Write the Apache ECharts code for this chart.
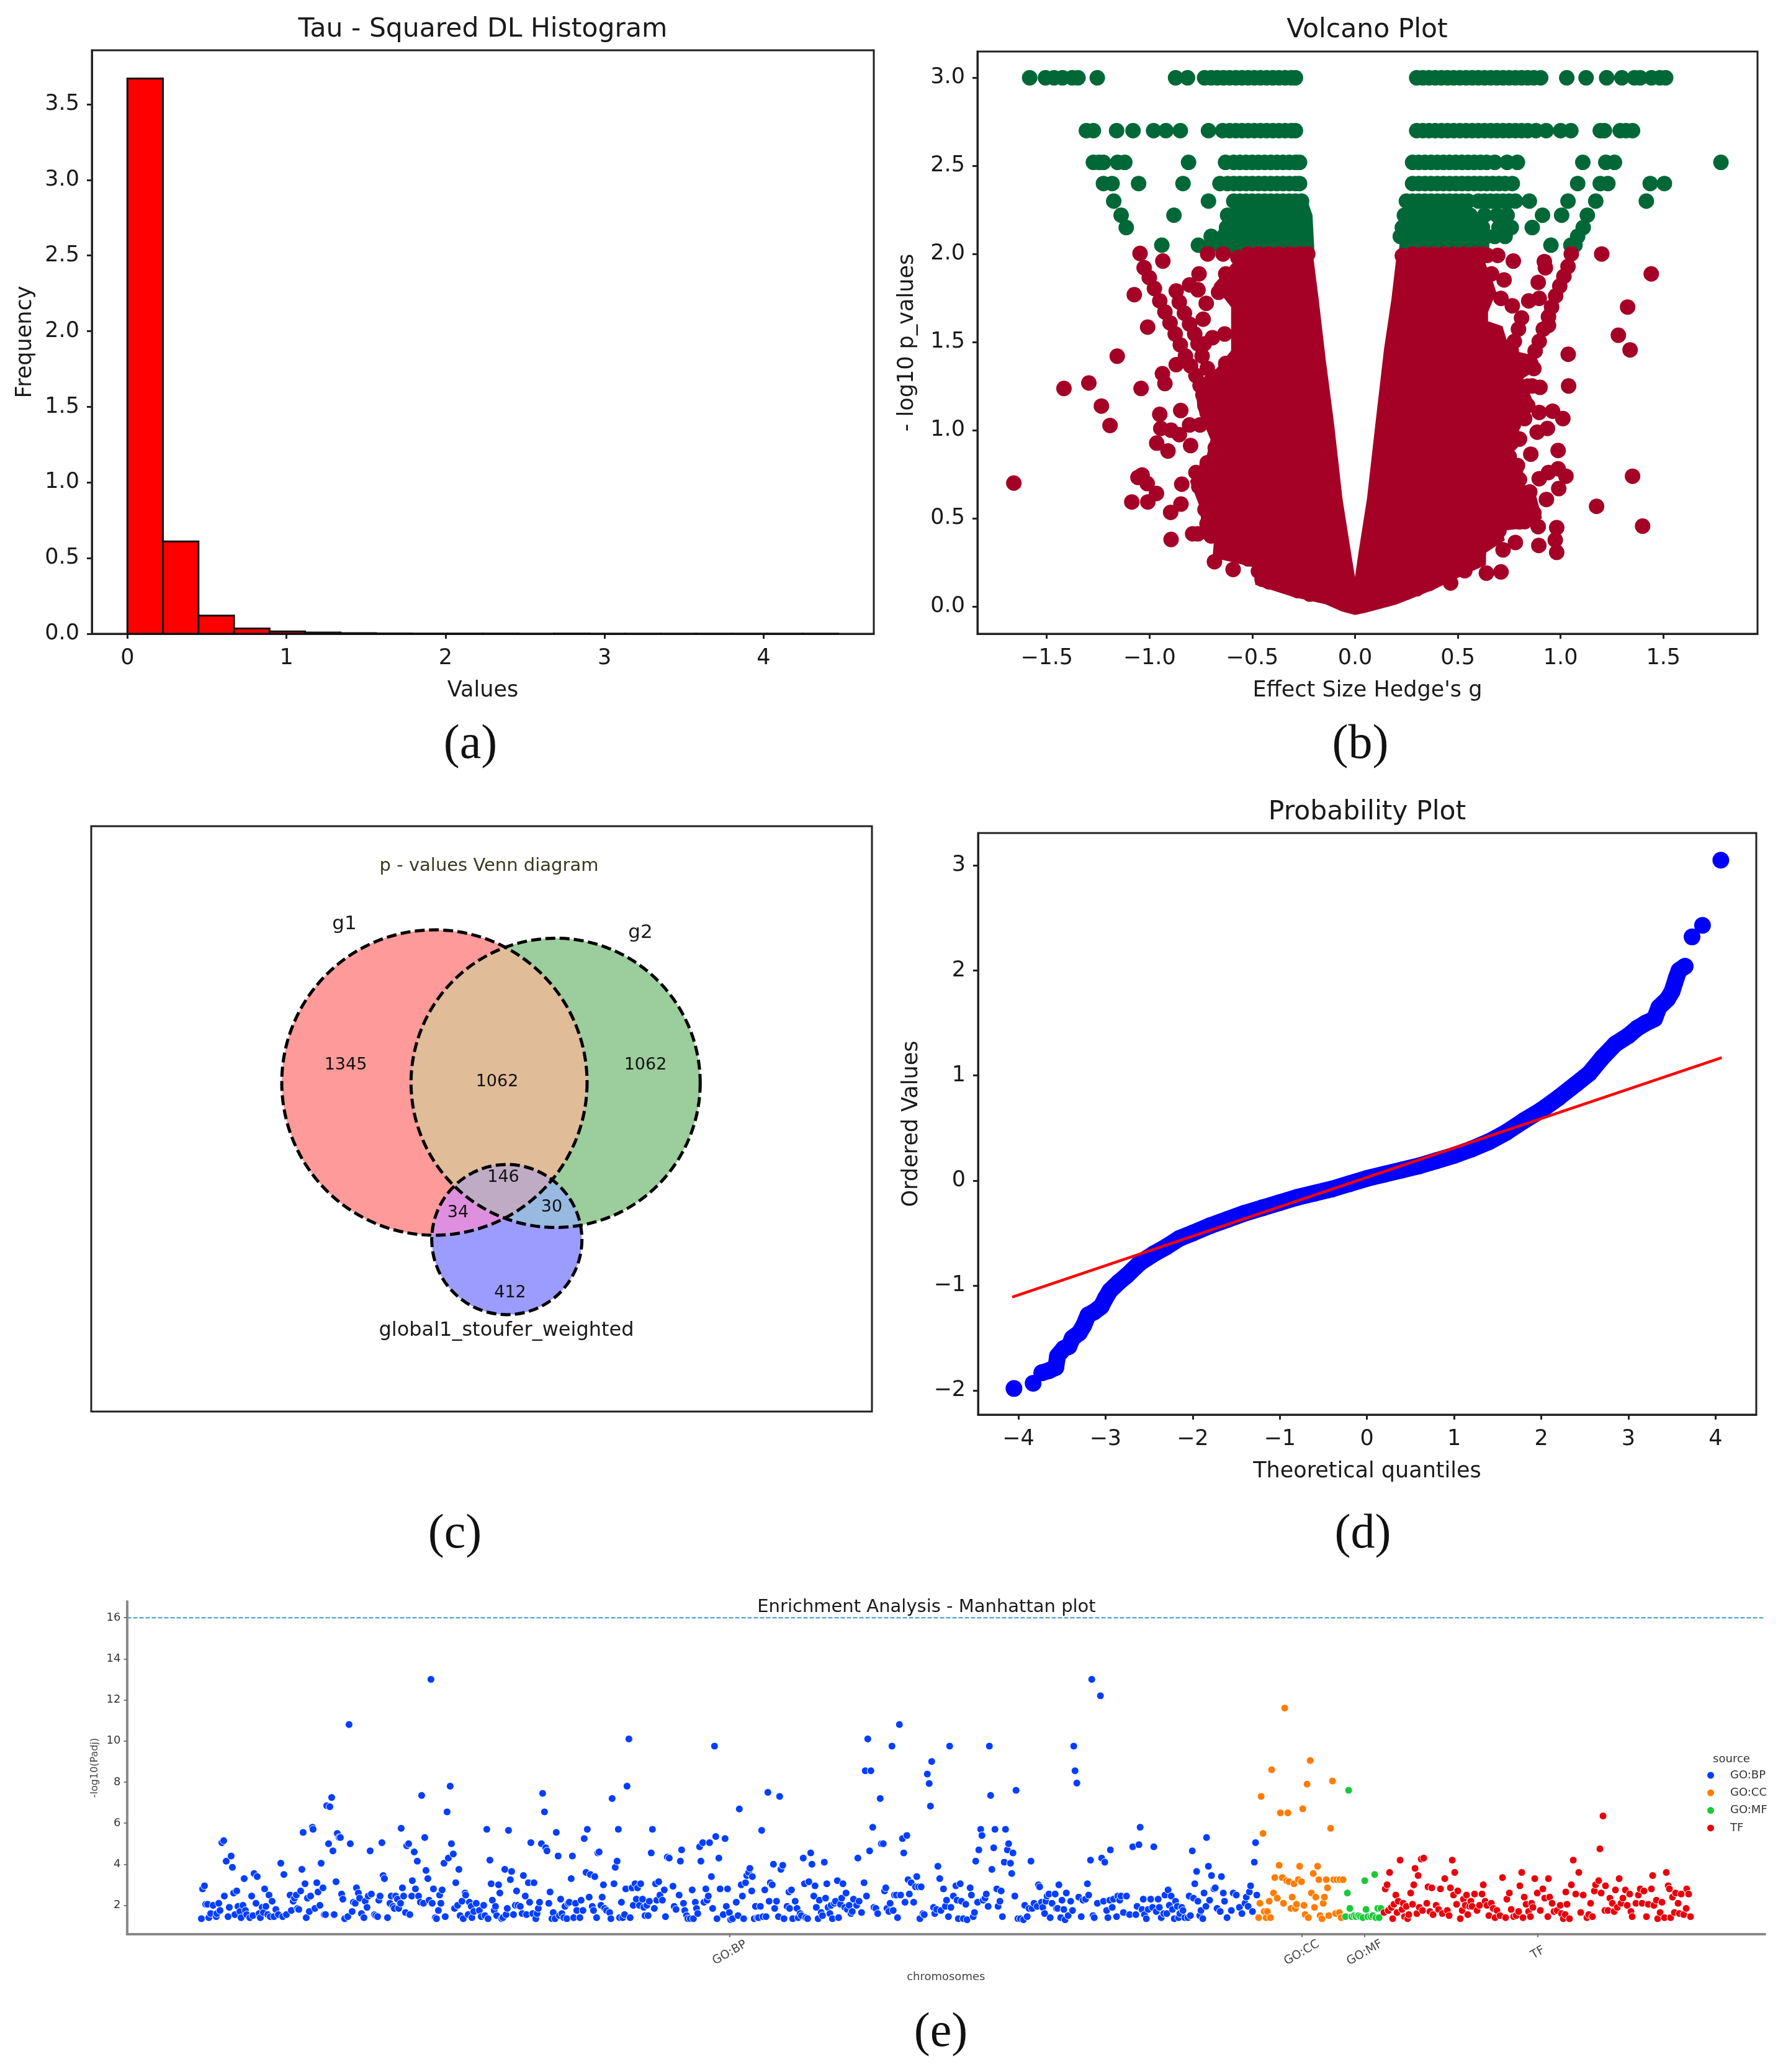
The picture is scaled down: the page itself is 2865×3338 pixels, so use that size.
<!DOCTYPE html>
<html>
<head>
<meta charset="utf-8">
<title>Meta-analysis figure</title>
<script src="https://cdn.jsdelivr.net/npm/echarts@6/dist/echarts.min.js"></script>
<style>
html,body{margin:0;padding:0;background:#fff}
#main{width:2865px;height:3338px}
</style>
</head>
<body>
<div id="main"></div>
<script>
// (a) histogram
var histStart = [0,.2235,.447,.6705,.894,1.1175,1.341,1.5645,1.788,2.0115,2.235,2.4585,2.682,2.9055,3.129,3.3525,3.576,3.7995,4.023,4.2465];
var histFreq = [3.67,.61,.12,.035,.015,.008,.004,.002,.0015,.001,.001,.0005,.001,.0005,.0003,.0003,.0003,.0002,.0002,.0002];
var histWidth = .2235;
var histXTicks = [0,1,2,3,4];
var histYTicks = [0,.5,1,1.5,2,2.5,3,3.5];

// (b) volcano: green rows share one -log10 p value
var greenRows = [
  [3.0,[-1.583,-1.506,-1.464,-1.423,-1.376,-1.348,-1.254,-.873,-.815,-.732,-.7,-.67,-.64,-.61,-.58,-.55,-.52,-.49,-.46,-.43,-.4,-.37,-.34,-.31,-.29,.3,.33,.36,.39,.42,.45,.48,.51,.54,.57,.6,.63,.66,.69,.72,.75,.78,.81,.84,.87,.903,1.03,1.124,1.224,1.298,1.359,1.387,1.442,1.483,1.511]],
  [2.7,[-1.307,-1.273,-1.16,-1.08,-.98,-.92,-.85,-.713,-.644,-.61,-.58,-.55,-.52,-.49,-.46,-.43,-.4,-.37,-.34,-.31,-.29,.3,.33,.36,.39,.42,.45,.48,.51,.54,.57,.6,.63,.66,.69,.72,.75,.78,.81,.84,.88,.93,1.0,1.05,1.193,1.213,1.29,1.318,1.35]],
  [2.52,[-1.273,-1.246,-1.224,-1.155,-1.12,-.81,-.63,-.59,-.56,-.53,-.5,-.47,-.44,-.41,-.38,-.35,-.32,-.29,-.27,.28,.31,.34,.37,.4,.43,.46,.49,.52,.55,.58,.61,.64,.68,.74,.79,1.108,1.22,1.262,1.78]],
  [2.4,[-1.224,-1.182,-1.053,-.837,-.657,-.62,-.59,-.56,-.53,-.5,-.47,-.44,-.41,-.38,-.35,-.32,-.29,-.27,.28,.31,.34,.37,.4,.43,.46,.49,.52,.55,.58,.61,.64,.67,.7,.73,.765,1.083,1.193,1.23,1.436,1.505]],
  [2.3,[-1.174,-.713,-.59,-.56,-.53,-.5,-.47,-.44,-.41,-.38,-.35,-.32,-.29,-.26,.25,.28,.31,.34,.37,.4,.43,.46,.49,.52,.55,.6,.63,.66,.69,.72,.75,.78,.848,1.036,1.171,1.417]],
  [2.22,[-1.138,-.881,-.62,-.25,.24,.56,.63,.69,.74,.912,1.005,1.13]],
  [2.15,[-1.113,-.625,.23,.62,.7,.74,.76,.862,1.11]],
  [2.1,[-.7,-.64,.22,.64,.68,.73,1.083]],
  [2.05,[-.94,-.762,-.7,-.66,.953,1.05,1.07]]
];
// solid blocks in the dense part, outlines
var greenMassLeft = [[-.56,2.32],[-.24,2.32],[-.21,2.22],[-.2,2.0],[-.63,2.0],[-.64,2.1],[-.62,2.22]];
var greenMassRight = [[.25,2.32],[.55,2.32],[.57,2.25],[.65,2.15],[.65,2.0],[.215,2.0],[.23,2.2]];
var redMass = [[-.56,1.99],[-.5,2.02],[-.21,2.02],[-.18,1.744],[-.146,1.404],[-.105,1.036],[-.064,.611],[-.022,.3],[0,.144],[.019,.3],[.061,.611],[.102,1.036],[.144,1.46],[.18,1.744],[.207,2.012],[.268,2.02],[.62,2.02],[.634,1.936],[.66,1.87],[.684,1.783],[.644,1.671],[.644,1.616],[.715,1.588],[.735,1.51],[.76,1.45],[.87,1.421],[.896,1.358],[.815,1.296],[.866,1.156],[.775,1.03],[.825,.948],[.725,.829],[.805,.78],[.825,.683],[.875,.641],[.906,.502],[.825,.447],[.715,.433],[.725,.377],[.634,.307],[.634,.238],[.503,.168],[.383,.099],[.2016,.015],[.047,-.034],[0,-.045],[-.064,-.025],[-.146,.017],[-.3,.057],[-.483,.126],[-.483,.224],[-.69,.28],[-.684,.363],[-.744,.474],[-.754,.57],[-.8,.71],[-.76,.78],[-.72,.85],[-.7,.947],[-.764,1.128],[-.774,1.268],[-.67,1.35],[-.6,1.45],[-.6,1.7],[-.684,1.825],[-.583,1.96]];
var redPoints = [[-1.66,.7],
// left side
[-1.046,2.003],[-.935,1.96],[-.717,2],[-.642,2],[-1.074,1.769],[-1.009,1.585],[-1.157,1.42],[-1.416,1.237],[-1.295,1.268],[-1.234,1.137],[-1.192,1.027],[-1.041,1.237],[-.937,1.321],[-.925,1.265],[-.87,1.372],[-.95,1.09],[-.848,1.112],[-.945,1.01],[-.965,.927],[-.91,.882],[-.895,1],[-.855,.975],[-.8,.913],[-.805,1.03],[-.754,1.03],[-.719,.815],[-.774,.76],[-.843,.694],[-1.036,.746],[-1.056,.732],[-1.011,.697],[-.966,.641],[-1.086,.593],[-1.008,.593],[-.847,.581],[-.897,.534],[-.764,.412],[-.79,.412],[-.895,.38],[-.684,.254],[-.593,.21],[-.452,.154],[-.397,.154],
[-1.026,1.922],[-1.001,1.866],[-.976,1.804],[-.95,1.734],[-.925,1.671],[-.9,1.609],[-.875,1.546],[-.85,1.484],[-.825,1.421],[-.8,1.365],[-.774,1.31],[-.754,1.254],
[-.87,1.79],[-.855,1.727],[-.83,1.664],[-.805,1.602],[-.78,1.546],[-.764,1.49],[-.744,1.421],[-.719,1.351],[-.684,1.282],[-.654,1.24],
[-.759,1.887],[-.805,1.825],[-.764,1.797],[-.724,1.72],[-.739,1.63],[-.629,1.887],[-.664,1.783],[-.634,1.546],[-.694,1.525],[-.734,1.49],[-.629,1.379],
// right side
[.77,1.96],[.921,1.957],[.926,1.922],[.891,1.839],[1.052,2],[1.2,2],[1.441,1.887],[1.326,1.699],[1.281,1.539],[1.338,1.456],[1.037,1.431],[1.039,1.251],[.861,1.251],[.9,1.243],[1.011,1.066],[.961,1.108],[.896,1.101],[.825,1.066],[.886,.989],[.936,1.01],[.855,.864],[.988,.885],[1.35,.739],[1.175,.568],[1.399,.456],[.981,.447],[.974,.377],[.981,.307],[.894,.346],[.78,.363],[.72,.321],[.71,.196],[.639,.189],[.465,.133],[.534,.203],[.891,.453],[.825,.481],[.931,.607],[.991,.669],[1.026,.739],[.988,.781],[.941,.76],[.896,.725],[.78,.767],
[.71,1.748],[.765,1.706],[.845,1.734],[.896,1.748],[.725,1.853],[.664,1.887],[.694,1.992],[.644,1.992],
[1.036,1.929],[1.016,1.873],[.996,1.818],[.976,1.762],[.956,1.699],[.941,1.644],[.941,1.595],[.916,1.574],[.896,1.504],[.876,1.449],[.855,1.379],
[.81,1.637],[.795,1.574],[.775,1.504],[.76,1.449],
// top edge of the dense part
[-.57,1.98],[-.52,2],[-.47,2],[-.42,2],[-.37,2],[-.32,2],[-.27,2],[-.23,2],[.23,1.99],[.28,2],[.33,2],[.38,2],[.43,2],[.48,2],[.53,2],[.58,2],[.62,2],
// lower and outer edges of the dense part
[-.22,.07],[-.28,.09],[-.35,.12],[-.42,.14],[-.47,.2],[-.52,.27],[-.58,.29],[-.64,.31],[-.7,.4],[-.72,.47],[-.73,.55],[-.76,.68],[-.72,.8],[-.68,.9],[-.72,1.1],[-.74,1.2],
[.25,.08],[.3,.1],[.36,.13],[.44,.18],[.5,.21],[.56,.25],[.6,.3],[.62,.35],[.7,.43],[.8,.48],[.87,.53],[.85,.65],[.8,.72],[.79,.8],[.75,.85],[.8,.95],[.77,1.03],[.84,1.14],[.84,1.25],[.87,1.35]];
var volcanoXTicks = [-1.5,-1,-.5,0,.5,1,1.5];
var volcanoYTicks = [0,.5,1,1.5,2,2.5,3];

// (c) venn: centres and radii in the panel's own units
var vennX = [553,748.3,669.7];
var vennY = [413,413.5,666];
var vennR = [246,233,121];
var vennCounts = ['1345','1062','1062','146','34','30','412'];
var vennCountX = [410,654,893,664,591,742,675];
var vennCountY = [385,412,385,566,623,614,752];

// (d) probability plot
var qqX = [-4.05,-3.83,-3.73,-3.65,-3.57,-3.55,-3.48,-3.42,-3.38,-3.3,-3.25,-3.2,-3.13,-3.05,-3,-2.95,-2.85,-2.75,-2.6,-2.45,-2.3,-2.15,-2,-1.8,-1.6,-1.4,-1.2,-1,-.8,-.6,-.4,-.2,0,.2,.4,.6,.8,1,1.2,1.4,1.6,1.8,2,2.2,2.4,2.55,2.7,2.85,3,3.1,3.2,3.3,3.35,3.45,3.5,3.55,3.58,3.65,3.73,3.85,4.06];
var qqY = [-1.98,-1.93,-1.83,-1.81,-1.78,-1.67,-1.6,-1.58,-1.5,-1.45,-1.38,-1.28,-1.25,-1.2,-1.12,-1.05,-.97,-.9,-.78,-.7,-.63,-.55,-.5,-.43,-.37,-.31,-.26,-.21,-.16,-.12,-.08,-.03,.02,.06,.1,.14,.19,.24,.3,.37,.46,.57,.67,.79,.92,1.02,1.17,1.3,1.38,1.45,1.5,1.54,1.65,1.73,1.8,1.93,2,2.04,2.32,2.43,3.05];
var qqLineX = [-4.07,4.07];
var qqLineY = [-1.11,1.17];
var qqXTicks = [-4,-3,-2,-1,0,1,2,3,4];
var qqYTicks = [-2,-1,0,1,2,3];

// (e) manhattan plot, x is the term position along the axis
var bpPoints = [[0,1.35],[2,2.8],[5,2.95],[7,2.05],[10,2.05],[12,1.4],[15,1.6],[19,2],[24,1.45],[25,1.6],[28,2.1],[30,1.75],[33,5.05],[36,5.15],[37,2.45],[40,4.15],[43,1.45],[45,1.9],[48,4.4],[50,3.85],[52,2.6],[54,1.55],[57,2.7],[59,1.95],[62,1.7],[64,1.4],[67,2],[69,3.3],[71,1.75],[73,1.55],[78,1.4],[81,2.45],[83,1.5],[85,3.55],[88,2.1],[90,3.4],[93,1.6],[95,1.4],[98,1.9],[100,1.65],[102,2.8],[104,1.95],[107,1.55],[109,2.5],[111,1.45],[114,2.2],[117,1.45],[120,1.8],[124,1.55],[128,4.05],[131,1.45],[133,3.5],[137,1.55],[143,2.5],[145,1.75],[148,2.2],[150,2.35],[153,2.5],[155,1.85],[157,1.8],[160,2.7],[162,3.75],[164,5.55],[167,3.05],[169,1.4],[171,2.35],[174,1.7],[176,2.45],[179,5.8],[180,5.7],[183,1.85],[186,3.1],[188,2.65],[191,2],[193,4.05],[196,2.85],[198,1.55],[200,1.55],[202,6.85],[205,5],[207,6.8],[210,7.25],[212,4.65],[214,1.55],[217,3.15],[219,5.5],[222,5.3],[224,5.3],[226,2.55],[228,2.3],[231,1.35],[236,1.45],[238,10.8],[240,5],[243,1.7],[245,2.15],[248,2.1],[250,2.85],[253,2.6],[255,2.35],[258,1.6],[262,1.4],[264,2.2],[267,1.9],[269,2.45],[272,4.65],[274,2.55],[279,1.55],[281,1.5],[284,1.45],[286,2.25],[288,2.45],[291,5.05],[293,3.45],[295,3.3],[300,1.4],[304,2.1],[306,2.45],[309,1.95],[311,1.85],[313,2.45],[316,2.3],[318,1.85],[321,2.1],[322,5.75],[324,2.85],[326,2.45],[329,1.65],[331,4.9],[334,5],[336,1.55],[339,2.45],[340,3.2],[343,4.6],[345,2.8],[348,4.15],[350,2.45],[353,2.15],[355,7.35],[358,2.1],[360,5.3],[362,3.7],[365,3.3],[367,2.25],[370,13],[372,2.1],[374,2.8],[377,1.4],[379,1.35],[382,1.75],[384,2.5],[386,2.1],[388,2.75],[391,4.05],[393,1.45],[396,6.55],[398,4.3],[401,7.8],[403,5],[406,4.5],[408,1.85],[410,3.1],[413,2],[415,3.75],[417,1.5],[420,2.2],[422,1.35],[425,2.6],[426,2.5],[430,1.55],[432,2.15],[435,1.95],[436,1.4],[439,1.7],[443,2.1],[448,1.75],[451,1.45],[455,2],[457,1.5],[460,5.7],[462,1.35],[465,4.2],[467,3.05],[469,2.25],[472,1.75],[474,1.95],[476,1.5],[479,3],[481,2.6],[484,1.35],[486,1.4],[489,3.75],[491,1.55],[493,1.85],[495,5.65],[498,3.25],[500,3.65],[503,1.55],[506,2],[508,2.7],[510,2],[514,1.95],[517,1.6],[519,3.45],[522,2.45],[524,1.55],[527,3.1],[529,2.15],[531,5.05],[534,1.6],[536,3.1],[539,1.35],[541,1.6],[543,1.85],[545,2.15],[548,5],[550,7.45],[553,6.55],[555,4.8],[557,4.65],[560,2.1],[562,2.65],[565,1.35],[567,1.65],[570,1.35],[572,5.55],[575,4.4],[577,1.5],[579,2.3],[581,1.6],[584,1.4],[586,1.95],[589,1.35],[591,2.1],[593,2.15],[596,3.3],[598,4.4],[600,1.4],[603,2.1],[605,1.75],[610,1.4],[612,2.25],[615,1.75],[617,5.25],[620,3.6],[622,5.7],[625,2.4],[627,3.5],[630,1.95],[632,1.75],[634,3.4],[637,1.4],[639,4.55],[641,4.6],[644,2],[646,2.4],[648,3],[650,1.85],[653,1.75],[658,1.65],[660,1.35],[662,7.2],[665,3.05],[667,3.85],[670,4.15],[672,5.7],[674,1.4],[677,2.15],[679,1.4],[682,1.55],[684,2.8],[686,7.8],[689,10.1],[691,1.4],[694,2.85],[696,2],[699,3.05],[701,2.3],[703,2.85],[706,2],[708,3.05],[711,2.3],[713,1.9],[715,1.5],[718,2],[720,1.5],[722,2.2],[725,4.55],[727,5.7],[730,1.85],[732,3.05],[734,2.25],[737,3.15],[739,2.5],[743,2.25],[746,2.75],[748,1.45],[751,4.35],[754,4.3],
[760,2.93],[762,1.95],[765,1.8],[770,2.5],[772,4.15],[774,4.7],[777,2.1],[779,1.75],[782,1.5],[784,1.35],[788,1.35],[791,2.75],[793,1.35],[796,2.15],[798,1.85],[800,1.6],[803,4.85],[805,4.15],[808,5.05],[810,2.15],[813,2.8],[815,2.25],[817,2.45],[819,5.05],[822,3.4],[824,1.85],[827,9.75],[829,5.35],[831,1.35],[834,4.3],[836,2.8],[841,1.55],[844,5.25],[846,1.95],[848,2.8],[851,1.65],[853,1.3],[856,1.35],[862,2.15],[865,1.5],[867,6.69],[870,3],[872,2.45],[874,1.35],[877,3.1],[879,3.45],[882,3.6],[884,3.8],[887,2.7],[888,3.4],[891,1.35],[893,1.95],[896,1.4],[898,1.4],[901,1.95],[903,5.65],[905,1.45],[908,2.75],[910,1.45],[913,7.5],[915,2.2],[917,3.1],[920,3],[922,4],[924,1.85],[927,2.2],[930,1.45],[932,7.3],[934,3.75],[937,3.95],[939,1.35],[944,1.95],[947,2.65],[948,1.85],[951,2.75],[953,1.35],[957,2.2],[960,1.85],[962,1.4],[965,1.6],[967,1.5],[970,4.3],[972,3.05],[974,1.4],[977,1.35],[979,3.15],[982,4.55],[984,4],[987,2.45],[989,2.95],[991,1.9],[994,1.35],[996,2.25],[999,1.65],[1001,1.5],[1004,4.1],[1006,2.35],[1008,3.05],[1010,1.9],[1013,1.6],[1015,2],[1017,1.35],[1020,2.1],[1022,2.2],[1025,3.2],[1027,1.4],[1030,2.05],[1032,2.35],[1034,3.05],[1037,1.9],[1039,2.6],[1041,1.8],[1044,2],[1047,1.6],[1049,1.7],[1051,2.3],[1056,2],[1058,4.3],[1060,2.2],[1064,1.65],[1068,3.1],[1070,8.55],[1072,2.45],[1074,10.1],[1077,4.65],[1079,8.55],[1082,5.8],[1084,1.9],[1087,1.85],[1090,1.6],[1094,7.2],[1096,5],[1099,5],[1101,2.7],[1103,2.85],[1105,1.85],[1108,1.7],[1110,2.1],[1113,9.75],[1115,1.75],[1117,2.5],[1120,2.5],[1122,1.4],[1125,10.8],[1127,2.5],[1130,5.25],[1132,4.55],[1134,2.15],[1137,5.4],[1139,3.25],[1141,2.55],[1144,3.1],[1148,2.15],[1151,2.9],[1153,3.4],[1156,2.9],[1158,1.35],[1160,2.9],[1163,1.6],[1165,1.55],[1170,8.39],[1173,7.93],[1175,6.83],[1177,9],[1180,1.9],[1182,1.6],[1185,1.8],[1187,3.9],[1190,3.3],[1192,1.75],[1196,2.8],[1199,1.95],[1201,2.25],[1204,1.45],[1206,9.75],[1208,1.9],[1212,2.45],[1216,2.95],[1218,2.25],[1220,1.35],[1223,3.05],[1225,2.2],[1228,1.35],[1232,2.05],[1234,1.3],[1239,2.85],[1241,2.5],[1244,1.45],[1246,1.65],[1248,4.15],[1251,2.15],[1253,4.7],[1256,5.7],[1258,5.4],[1260,2.25],[1263,2.35],[1265,2.55],[1268,1.95],[1270,9.75],[1272,7.35],[1274,3.75],[1277,4.8],[1279,5.7],[1282,2.8],[1284,1.95],[1287,2.2],[1289,2.7],[1291,1.45],[1294,4.1],[1296,5.7],[1299,4.7],[1301,5],[1304,4.05],[1306,3.55],[1308,4.55],[1311,2.45],[1313,7.6],[1316,1.35],[1320,1.35],[1325,1.3],[1327,2],[1331,1.45],[1334,1.85],[1337,4.15],[1339,1.85],[1342,2.1],[1347,1.95],[1349,3],[1351,2.9],[1354,2.15],[1356,1.9],[1359,1.6],[1361,2.2],[1363,2.45],[1366,2.55],[1368,1.4],[1371,2.1],[1376,2.55],[1378,1.85],[1380,1.85],[1382,3],[1385,1.4],[1387,2.25],[1390,1.8],[1392,1.3],[1394,2.6],[1397,1.5],[1401,2.2],[1404,1.75],[1406,9.75],[1408,8.55],[1411,7.95],[1414,2.4],[1418,1.45],[1421,2.25],[1425,2.3],[1428,3.05],[1430,2.5],[1433,4.2],[1435,13],[1437,1.5],[1439,1.4],[1444,2.1],[1449,12.2],[1451,4.3],[1454,2.2],[1456,4.1],[1459,1.75],[1461,1.4],[1464,2.25],[1465,4.7],[1468,1.9],[1470,2.3],[1475,1.45],[1477,2.45],[1480,2.25],[1482,2.45],[1486,1.65],[1491,2.45],[1496,1.55],[1501,4.85],[1506,1.55],[1508,1.95],[1511,4.95],[1513,5.8],[1516,1.8],[1518,2.3],[1520,1.55],[1523,1.35],[1526,1.8],[1530,2.3],[1533,1.9],[1535,4.85],[1539,1.7],[1542,2.3],[1544,1.9],[1547,1.4],[1551,1.6],[1553,2.5],[1556,1.6],[1558,2.75],[1560,2],[1563,2.45],[1565,1.8],[1568,1.35],[1570,2.2],[1573,1.95],[1575,1.4],[1577,1.6],[1580,1.9],[1582,1.75],[1585,1.4],[1590,1.4],[1592,2.45],[1594,1.5],[1597,4.65],[1599,2.35],[1601,3.05],[1604,3.65],[1606,2.2],[1609,1.5],[1611,1.75],[1614,1.35],[1616,2.6],[1619,1.95],[1620,5.3],[1623,3.9],[1625,2.25],[1628,3.45],[1632,2.8],[1634,2.85],[1637,1.85],[1642,1.7],[1644,3.4],[1647,2.6],[1649,2.2],[1653,1.4],[1660,1.75],[1663,2.6],[1668,2.5],[1673,1.9],
[1677,1.6],[1682,2.1],[1684,2.4],[1687,1.95],[1689,2.65],[1691,2.95],[1694,1.7],[1697,4.1],[1699,5.05],[1701,2.5]];
var ccPoints = [[1704,1.4],[1706,2.1],[1708,7.3],[1711,5.5],[1713,1.7],[1716,1.4],[1718,1.7],[1721,2.2],[1723,1.4],[1725,8.6],[1728,2.6],[1730,3.35],[1734,2.35],[1737,3.95],[1739,6.5],[1742,3.35],[1744,2.1],[1746,11.6],[1749,3.2],[1751,6.5],[1753,3.15],[1756,1.85],[1758,2.4],[1761,3.05],[1763,1.85],[1765,2.05],[1768,3.25],[1770,3.9],[1773,3.15],[1775,6.7],[1777,2],[1779,1.55],[1782,7.9],[1784,1.4],[1787,9.05],[1789,2.6],[1792,3.55],[1794,1.9],[1796,2.4],[1799,3.9],[1801,3.25],[1803,1.5],[1806,1.35],[1808,2.1],[1810,2.4],[1813,3.25],[1815,2.85],[1817,1.5],[1820,5.75],[1823,8.05],[1825,3.25],[1828,1.6],[1830,3.25],[1834,1.65],[1835,3.25],[1837,1.4],[1840,3.25]];
var mfPoints = [[1844,1.45],[1847,2.6],[1849,7.6],[1851,1.85],[1854,1.45],[1858,1.5],[1861,1.45],[1865,1.5],[1868,1.45],[1872,1.4],[1875,3.2],[1877,1.8],[1880,1.45],[1885,1.45],[1888,1.5],[1891,3.5],[1893,1.4],[1896,1.85],[1898,1.4],[1901,1.85]];
var tfPoints = [[1906,1.65],[1908,2.8],[1911,3],[1913,1.75],[1915,3.6],[1918,1.9],[1920,1.35],[1922,2.05],[1925,2.5],[1927,1.65],[1929,2.2],[1932,4.2],[1935,1.8],[1937,2.1],[1939,1.45],[1942,1.95],[1944,1.35],[1946,1.55],[1949,2.6],[1952,2.05],[1954,3],[1956,3.8],[1959,1.6],[1961,3.45],[1963,1.9],[1966,4.25],[1968,1.75],[1970,4.3],[1975,2.1],[1977,2.9],[1980,1.7],[1983,2.85],[1985,1.55],[1990,2],[1994,1.8],[1997,2.8],[2000,1.6],[2004,3.3],[2008,1.75],[2011,1.5],[2013,2.85],[2016,4.2],[2018,2.5],[2020,3.6],[2023,2.05],[2025,2.7],[2029,1.35],[2032,1.75],[2034,2.3],[2037,2],[2039,2.5],[2041,1.55],[2044,1.95],[2046,2.2],[2048,1.95],[2052,2.55],[2056,1.75],[2060,2],[2064,2.55],[2066,3],[2069,2.2],[2072,2],[2075,1.5],[2079,2.1],[2082,1.85],[2085,1.4],[2088,1.75],[2093,1.5],[2097,3.35],[2102,1.4],[2104,2.3],[2108,2.6],[2111,1.8],[2115,1.45],[2119,1.5],[2123,1.7],[2125,2.95],[2128,3.6],[2130,1.4],[2132,2.4],[2135,2.05],[2139,1.7],[2142,1.45],[2144,2.1],[2146,1.9],[2149,3.3],[2153,2.6],[2158,1.75],[2162,2.8],[2165,2.35],[2170,1.45],[2171,3.3],[2173,2.4],[2177,2.1],[2180,1.7],[2185,1.75],[2190,2],[2192,1.6],[2195,1.35],[2198,1.55],[2199,2.65],[2201,2.05],[2205,1.35],[2208,3],[2211,4.2],[2215,2.55],[2220,3.6],[2223,1.65],[2227,2.5],[2233,1.4],[2236,1.55],[2239,2.1],[2242,1.45],[2245,2.7],[2247,3],[2252,3.2],[2254,4.75],[2256,2.6],[2259,6.35],[2262,1.75],[2263,2.95],[2267,1.75],[2270,2.35],[2274,2.1],[2277,1.7],[2279,2.75],[2282,1.9],[2285,3.3],[2288,2.1],[2291,2.35],[2295,2.75],[2298,2],[2302,2.55],[2304,1.7],[2306,1.45],[2312,2.1],[2316,2.5],[2319,2.8],[2322,2.1],[2325,2.7],[2329,1.45],[2332,2.05],[2337,2.8],[2339,3.45],[2341,2],[2345,2.25],[2347,1.35],[2351,1.65],[2354,2.15],[2358,1.4],[2361,3.6],[2364,2.95],[2366,2.8],[2368,1.4],[2371,2.4],[2374,1.65],[2376,2.6],[2380,2.1],[2382,1.6],[2385,2.55],[2389,1.55],[2393,1.85],[2394,2.8],[2397,2.55],[2400,1.45]];
var manhattanTickPos = [851.5,1773.5,1875,2154];
var manhattanTickNames = ['GO:BP','GO:CC','GO:MF','TF'];
var manhattanYTicks = [2,4,6,8,10,12,14,16];
var thresholdY = 16;

var FONT = 'DejaVu Sans';
var TEXT = '#1a1a1a';

function minus(s) { return String(s).replace('-', '\u2212'); }

function pair(xs, ys) {
  return xs.map(function (x, i) { return [x, ys[i]]; });
}

function boxAxis(idx, min, max, ticks, name, gap, fmt, isY) {
  return {
    type: 'value', gridIndex: idx, min: min, max: max, scale: true,
    splitLine: { show: false },
    name: name, nameLocation: 'middle', nameGap: gap,
    nameTextStyle: { fontFamily: FONT, fontSize: 35, color: TEXT },
    axisLine: { show: true, onZero: false, lineStyle: { color: '#222', width: 3 } },
    axisTick: { show: true, length: 8, customValues: ticks, lineStyle: { color: '#222', width: 3 } },
    axisLabel: { customValues: ticks, fontFamily: FONT, fontSize: 35, color: TEXT, margin: isY ? 20 : 22, formatter: fmt,
      padding: isY ? [4, 0, 0, 0] : 0, showMinLabel: true, showMaxLabel: true }
  };
}
function fix1(v) { return minus(v.toFixed(1)); }
function plain(v) { return minus(v); }

var gridBox = { show: true, borderColor: '#222', borderWidth: 3, backgroundColor: '#fff' };

function polygonSeries(points, color, xi, z) {
  return {
    type: 'custom', xAxisIndex: xi, yAxisIndex: xi, z: z, silent: true,
    data: [0],
    renderItem: function (params, api) {
      return {
        type: 'polygon',
        shape: { points: points.map(function (p) { return api.coord(p); }) },
        style: { fill: color, stroke: color, lineWidth: 2 }
      };
    }
  };
}

// venn regions: fill colour, which circle is drawn, which circles clip it
var vennFills = [
  { c: '#ff9a9a', draw: 0, clip: [] },
  { c: '#9ccd9c', draw: 1, clip: [] },
  { c: '#e0bc98', draw: 1, clip: [0] },
  { c: '#9c9cff', draw: 2, clip: [] },
  { c: '#de90de', draw: 2, clip: [0] },
  { c: '#98b9e0', draw: 2, clip: [1] },
  { c: '#c0abc4', draw: 2, clip: [0, 1] }
];

function vennShape(api, i) {
  var p = api.coord([vennX[i], vennY[i]]);
  return { cx: p[0], cy: p[1], r: api.size([vennR[i], 0])[0] };
}

var series = [];

// (a)
series.push({
  type: 'custom', xAxisIndex: 0, yAxisIndex: 0, z: 3,
  data: histStart.map(function (s, i) { return [s, s + histWidth, histFreq[i]]; }),
  encode: { x: [0, 1], y: 2 },
  renderItem: function (params, api) {
    var a = api.coord([api.value(0), api.value(2)]);
    var b = api.coord([api.value(1), 0]);
    return {
      type: 'rect',
      shape: { x: a[0], y: a[1], width: b[0] - a[0], height: b[1] - a[1] },
      style: { fill: '#ff0000', stroke: '#111', lineWidth: 3 }
    };
  }
});

// (b)
var greenPoints = [];
greenRows.forEach(function (row) {
  row[1].forEach(function (x) { greenPoints.push([x, row[0]]); });
});
series.push(polygonSeries(greenMassLeft, '#006837', 1, 2));
series.push(polygonSeries(greenMassRight, '#006837', 1, 2));
series.push({
  type: 'scatter', xAxisIndex: 1, yAxisIndex: 1, z: 2, silent: true,
  symbolSize: 25, itemStyle: { color: '#006837', opacity: 1 }, data: greenPoints
});
series.push(polygonSeries(redMass, '#a50026', 1, 3));
series.push({
  type: 'scatter', xAxisIndex: 1, yAxisIndex: 1, z: 3, silent: true,
  symbolSize: 25, itemStyle: { color: '#a50026', opacity: 1 }, data: redPoints
});

// (c)
series.push({
  type: 'custom', xAxisIndex: 2, yAxisIndex: 2, z: 2, silent: true,
  data: vennFills.map(function (f, i) { return i; }),
  renderItem: function (params, api) {
    var f = vennFills[params.dataIndex];
    var el = { type: 'circle', shape: vennShape(api, f.draw), style: { fill: f.c } };
    if (f.clip.length) el.clipPath = { type: 'circle', shape: vennShape(api, f.clip[0]) };
    if (f.clip.length > 1) {
      return { type: 'group', clipPath: { type: 'circle', shape: vennShape(api, f.clip[1]) }, children: [el] };
    }
    return el;
  }
});
series.push({
  type: 'custom', xAxisIndex: 2, yAxisIndex: 2, z: 3, silent: true,
  data: [0, 1, 2],
  renderItem: function (params, api) {
    return {
      type: 'circle', shape: vennShape(api, params.dataIndex),
      style: { fill: 'none', stroke: '#000', lineWidth: 5, lineDash: [16, 7] }
    };
  }
});
series.push({
  type: 'custom', xAxisIndex: 2, yAxisIndex: 2, z: 4, silent: true,
  data: vennCounts.map(function (c, i) { return i; }),
  renderItem: function (params, api) {
    var i = params.dataIndex;
    var p = api.coord([vennCountX[i], vennCountY[i]]);
    return {
      type: 'text', x: p[0], y: p[1],
      style: { text: vennCounts[i], fontFamily: FONT, fontSize: 27, fill: '#111', align: 'center', verticalAlign: 'middle' }
    };
  }
});

// (d)
series.push({
  type: 'line', xAxisIndex: 3, yAxisIndex: 3, z: 2, silent: true,
  showSymbol: false, lineStyle: { color: '#0000ff', width: 27, cap: 'round', join: 'round' },
  data: pair(qqX, qqY).slice(2, 58)
});
series.push({
  type: 'scatter', xAxisIndex: 3, yAxisIndex: 3, z: 2, silent: true,
  symbolSize: 27, itemStyle: { color: '#0000ff', opacity: 1 }, data: pair(qqX, qqY)
});
series.push({
  type: 'line', xAxisIndex: 3, yAxisIndex: 3, z: 3, silent: true,
  showSymbol: false, lineStyle: { color: '#ff0000', width: 4.5 },
  data: pair(qqLineX, qqLineY)
});

// (e)
series.push({
  type: 'line', xAxisIndex: 4, yAxisIndex: 4, z: 1, silent: true,
  showSymbol: false, lineStyle: { color: '#3c9ad4', width: 2, type: [7, 3] },
  data: [[-120, thresholdY], [2520, thresholdY]]
});
[['GO:BP', bpPoints, '#023eff'], ['GO:CC', ccPoints, '#ff7c00'], ['GO:MF', mfPoints, '#1ac938'], ['TF', tfPoints, '#e8000b']].forEach(function (s) {
  series.push({
    name: s[0], type: 'scatter', xAxisIndex: 4, yAxisIndex: 4, z: 2, silent: true,
    symbolSize: 12, itemStyle: { color: s[2], opacity: 1, borderColor: '#fff', borderWidth: 1 }, data: s[1]
  });
});

function heading(text, x, y, size, extra) {
  var st = { fontFamily: FONT, fontSize: size, fontWeight: 'normal', color: TEXT };
  for (var k in extra) st[k] = extra[k];
  return { text: text, left: x, top: y, textAlign: 'center', textVerticalAlign: 'middle', padding: 0, textStyle: st };
}
var CAP = { fontFamily: 'Liberation Serif', color: '#111' };

var option = {
  animation: false,
  backgroundColor: '#fff',
  title: [
    heading('Tau - Squared DL Histogram', 778, 48, 42.5),
    heading('Volcano Plot', 2203, 49, 42.5),
    heading('Probability Plot', 2203, 1309, 42.5),
    heading('p - values Venn diagram', 788, 1395, 29, { color: '#3a3a20' }),
    heading('g1', 555, 1489, 31),
    heading('g2', 1032, 1503, 31),
    heading('global1_stoufer_weighted', 816, 2144, 32),
    heading('Enrichment Analysis - Manhattan plot', 1493, 2589, 29),
    heading('source', 2790, 2834, 18, { color: '#333' }),
    heading('(a)', 758, 1201, 78, CAP),
    heading('(b)', 2192, 1201, 78, CAP),
    heading('(c)', 733, 2473, 78, CAP),
    heading('(d)', 2196, 2473, 78, CAP),
    heading('(e)', 1516, 3276, 78, CAP)
  ],
  legend: {
    show: true, orient: 'vertical', left: 2749, top: 2851, padding: 0,
    itemWidth: 13, itemHeight: 13, itemGap: 10.3, icon: 'circle',
    data: ['GO:BP', 'GO:CC', 'GO:MF', 'TF'],
    textStyle: { fontFamily: FONT, fontSize: 18, color: '#333', padding: [0, 0, 0, 20] }
  },
  grid: [
    Object.assign({ left: 148, top: 81, width: 1260, height: 940 }, gridBox),
    Object.assign({ left: 1575, top: 83, width: 1257, height: 938 }, gridBox),
    Object.assign({ left: 147, top: 1331, width: 1258, height: 943 }, gridBox),
    Object.assign({ left: 1576, top: 1342, width: 1254, height: 937 }, gridBox),
    { left: 204.5, top: 2580, width: 2639.5, height: 536, show: false }
  ],
  xAxis: [
    boxAxis(0, -.2235, 4.6935, histXTicks, 'Values', 74, plain),
    boxAxis(1, -1.837, 1.958, volcanoXTicks, "Effect Size Hedge's g", 74, fix1),
    { type: 'value', gridIndex: 2, min: 0, max: 1258, show: false, splitLine: { show: false } },
    boxAxis(3, -4.462, 4.467, qqXTicks, 'Theoretical quantiles', 74, plain),
    {
      type: 'value', gridIndex: 4, min: -120, max: 2520,
      name: 'chromosomes', nameLocation: 'middle', nameGap: 60,
      nameTextStyle: { fontFamily: FONT, fontSize: 18, color: '#444' },
      splitLine: { show: false },
      axisLine: { show: true, onZero: false, lineStyle: { color: '#8a8a8a', width: 4 } },
      axisTick: { show: true, length: 5, customValues: manhattanTickPos, lineStyle: { color: '#555', width: 1.5 } },
      axisLabel: {
        customValues: manhattanTickPos, rotate: 30, align: 'center', verticalAlign: 'middle',
        fontFamily: FONT, fontSize: 19, color: '#444', margin: 30,
        formatter: function (v) { return manhattanTickNames[manhattanTickPos.indexOf(v)]; }
      }
    }
  ],
  yAxis: [
    boxAxis(0, 0, 3.857, histYTicks, 'Frequency', 90, fix1, true),
    boxAxis(1, -.155, 3.149, volcanoYTicks, '- log10 p_values', 96, fix1, true),
    { type: 'value', gridIndex: 2, min: 0, max: 943, inverse: true, show: false, splitLine: { show: false } },
    boxAxis(3, -2.229, 3.309, qqYTicks, 'Ordered Values', 90, plain, true),
    {
      type: 'value', gridIndex: 4, min: .595, max: 16.79,
      name: '-log10(Padj)', nameLocation: 'middle', nameGap: 42,
      nameTextStyle: { fontFamily: FONT, fontSize: 16, color: '#444' },
      splitLine: { show: false },
      axisLine: { show: true, onZero: false, lineStyle: { color: '#8a8a8a', width: 4 } },
      axisTick: { show: true, length: 5, customValues: manhattanYTicks, lineStyle: { color: '#555', width: 1.5 } },
      axisLabel: { customValues: manhattanYTicks, fontFamily: FONT, fontSize: 18, color: '#333', margin: 10 }
    }
  ],
  series: series
};

var chart = echarts.init(document.getElementById('main'));
chart.setOption(option);
</script>
</body>
</html>
